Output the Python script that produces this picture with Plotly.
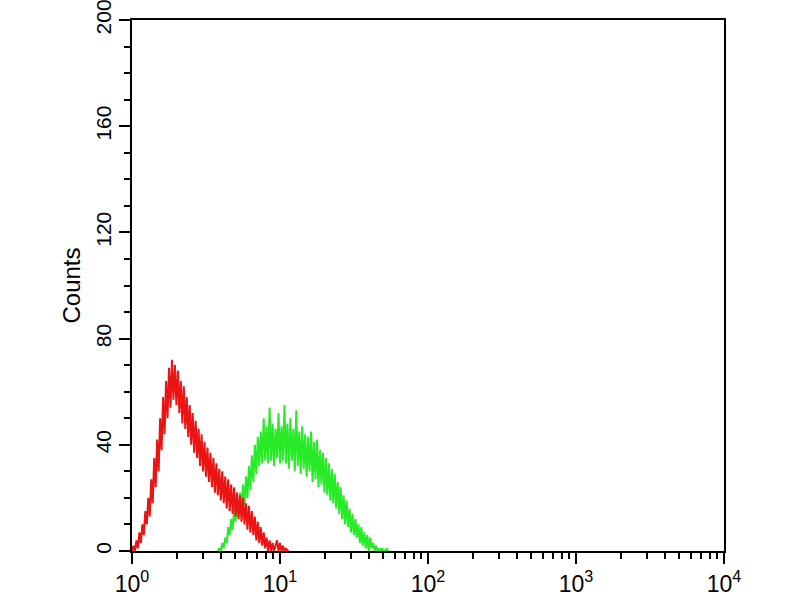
import numpy as np
import plotly.graph_objects as go

# Histogram counts (log-spaced channels). Red: isotype control, Green: antibody
red_log_start, red_log_end = 0.0, 1.06
red_counts = [0, 2, 0, 4, 1, 7, 3, 10, 6, 15, 10,
              20, 13, 27, 18, 35, 24, 42, 30, 50, 38,
              58, 44, 64, 50, 69, 54, 72, 57, 70, 55,
              68, 52, 64, 48, 62, 46, 58, 43, 55, 40,
              52, 37, 49, 35, 46, 32, 44, 30, 41, 28,
              39, 26, 37, 24, 35, 22, 33, 21, 31, 19,
              30, 18, 28, 16, 27, 15, 25, 14, 24, 13,
              22, 12, 21, 11, 20, 10, 18, 8, 17, 7,
              15, 6, 13, 4, 11, 3, 9, 2, 7, 1,
              5, 0, 4, 0, 3, 0, 2, 4, 0, 3,
              0, 2, 0, 1, 0, 0]

green_log_start, green_log_end = 0.58, 1.74
green_counts = [0, 1, 0, 3, 1, 5, 3, 9, 6, 12, 8, 16, 11, 19, 13, 22, 15, 25, 17, 28,
                20, 32, 23, 36, 26, 40, 29, 43, 32, 45, 33, 50, 34, 47, 33, 54, 34, 48, 32, 46,
                35, 52, 33, 47, 34, 55, 33, 48, 31, 50, 34, 46, 30, 53, 32, 45, 29, 47, 31, 44,
                28, 43, 30, 45, 26, 41, 27, 42, 24, 38, 25, 37, 22, 35, 21, 33, 19, 31, 18, 29,
                16, 26, 14, 24, 12, 21, 10, 19, 9, 16, 7, 14, 6, 12, 5, 10, 3, 9, 2, 7,
                1, 6, 0, 5, 1, 3, 0, 2, 0, 1, 0, 1, 0, 0, 1, 0, 0]

y_ticks = [0, 40, 80, 120, 160, 200]
x_decades = [1, 10, 100, 1000, 10000]
x_tick_text = ["10<sup>0</sup>", "10<sup>1</sup>", "10<sup>2</sup>", "10<sup>3</sup>", "10<sup>4</sup>"]

red_x = 10 ** np.linspace(red_log_start, red_log_end, len(red_counts))
green_x = 10 ** np.linspace(green_log_start, green_log_end, len(green_counts))

fig = go.Figure()
fig.add_trace(go.Scatter(x=green_x, y=green_counts, mode="lines",
                         line=dict(color="rgb(40,235,40)", width=2), showlegend=False))
fig.add_trace(go.Scatter(x=red_x, y=red_counts, mode="lines",
                         line=dict(color="rgb(235,20,20)", width=2), showlegend=False))

font_family = "Liberation Sans, Arial, sans-serif"
fig.update_layout(
    width=800, height=600,
    margin=dict(l=132, r=76, t=20, b=49, autoexpand=False),
    paper_bgcolor="white", plot_bgcolor="white",
    font=dict(family=font_family, color="black"),
    showlegend=False,
)
fig.update_xaxes(
    type="log", range=[0, 4], automargin=False,
    showline=True, linecolor="black", linewidth=2, mirror=True,
    showgrid=False, zeroline=False,
    tickmode="array", tickvals=x_decades, ticktext=x_tick_text,
    ticks="outside", ticklen=11, tickwidth=2, tickcolor="black",
    tickfont=dict(size=23, family=font_family, color="black"),
    ticklabeloverflow="allow",
    minor=dict(ticks="outside", ticklen=6, tickwidth=2, tickcolor="black",
               tickvals=[m * d for d in [1, 10, 100, 1000] for m in range(2, 10)],
               showgrid=False),
)
fig.update_yaxes(
    range=[0, 200], automargin=False,
    showline=True, linecolor="black", linewidth=2, mirror=True,
    showgrid=False, zeroline=False,
    tickmode="array", tickvals=y_ticks,
    ticks="outside", ticklen=11, tickwidth=2, tickcolor="black",
    tickangle=-90,
    tickfont=dict(size=21, family=font_family, color="black"),
    ticklabeloverflow="allow",
    minor=dict(ticks="outside", ticklen=6, tickwidth=2, tickcolor="black", dtick=10,
               showgrid=False),
    title=dict(text="Counts", font=dict(size=24, family=font_family, color="black"),
               standoff=4),
)

fig.write_html("out.html", config={"displayModeBar": False},
               post_script="document.body.style.margin='0';document.body.style.overflow='hidden';")
